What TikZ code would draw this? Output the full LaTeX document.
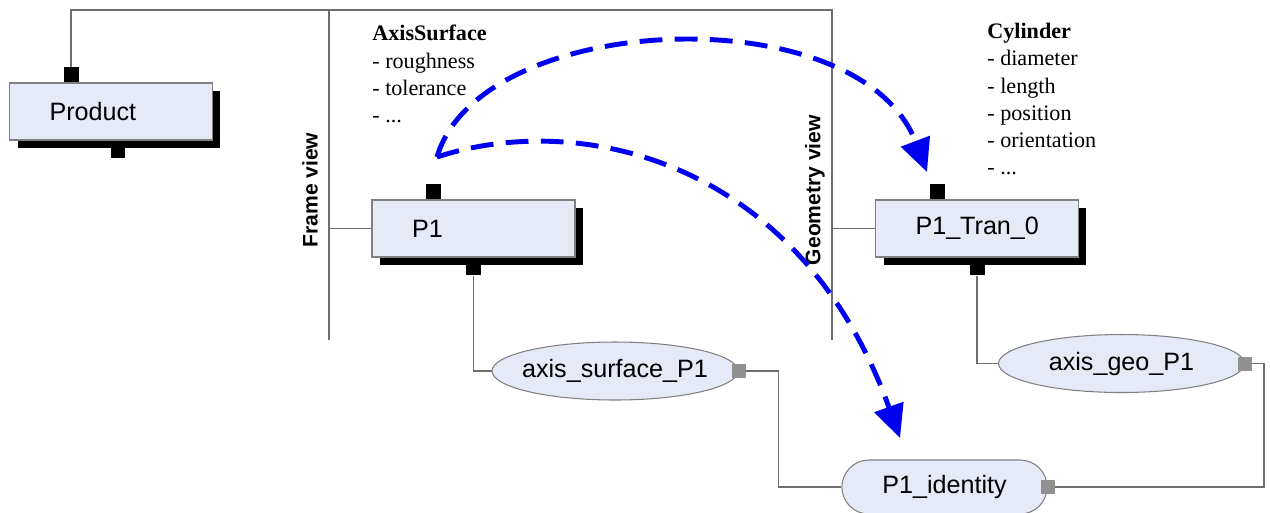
\documentclass[tikz,border=0pt]{standalone}
\usepackage{fontspec}
\setmainfont{Liberation Serif}
\setsansfont{Liberation Sans}
\usepackage{tikz}
\usetikzlibrary{positioning, shapes, arrows.meta, shadows}
\definecolor{dgFill}{HTML}{E6EAF7}
\definecolor{dgBorder}{HTML}{808080}
\definecolor{dgLine}{HTML}{6E6E6E}
\definecolor{dgGreyPort}{HTML}{909090}
\definecolor{dgBlue}{HTML}{0000F0}
\tikzset{
    dgBoxBase/.style={
        rectangle,
        draw=dgBorder,
        fill=dgFill,
        line width=0.6pt,
        minimum height=1.14cm,
        text width=2.46cm,
        inner xsep=0.8cm,
        align=left,
        font=\sffamily\fontsize{14.3}{17}\selectfont,
        general shadow={fill=black, shadow xshift=0.16cm, shadow yshift=-0.16cm}
    },
    % Instance shapes
    dgEllipse/.style={
        ellipse,
        draw=dgBorder,
        fill=dgFill,
        line width=0.6pt,
        minimum width=4.92cm,
        minimum height=1.16cm,
        inner xsep=-0.2cm,
        inner ysep=0pt,
        font=\sffamily\fontsize{14.3}{17}\selectfont
    },
    dgTerminal/.style={
        rounded rectangle,
        draw=dgBorder,
        fill=dgFill,
        line width=0.6pt,
        minimum width=4.34cm,
        minimum height=1.08cm,
        font=\sffamily\fontsize{14.3}{17}\selectfont
    },
    % Ports
    dgPort/.style={rectangle, fill=black, inner sep=0pt, minimum size=0.3cm},
    dgPortGrey/.style={rectangle, fill=dgGreyPort, inner sep=0pt, minimum size=0.28cm},
    % Lines and labels
    dgLink/.style={draw=dgLine, line width=0.7pt},
    dgMap/.style={draw=dgBlue, line width=2.8pt, dash pattern=on 13pt off 7pt,
        -{Triangle[length=0.66cm, width=0.6cm]}},
    dgView/.style={rotate=90, font=\sffamily\bfseries\fontsize{12}{14}\selectfont},
    dgAttr/.style={anchor=north west, inner sep=0pt, align=left,
        font=\fontsize{12.6}{15.5}\selectfont}
}

\begin{document}
\begin{tikzpicture}[x=0.02cm, y=-0.02cm]
    \useasboundingbox (0,0) rectangle (1270,512);

    % boxes
    \node[dgBoxBase] (product) at (111,111.5) {Product};
    \node[dgBoxBase] (p1) at (473.5,228.5) {P1};
    \node[dgBoxBase] (tran) at (977,228.5) {P1\_Tran\_0};

    \node[dgPort, above=0pt of product.north, xshift=-0.8cm] (prodtop) {};
    \node[dgPort, below=0.05cm of product.south, xshift=0.14cm] (prodbot) {};
    \node[dgPort, above=0pt of p1.north, xshift=-0.8cm] (p1top) {};
    \node[dgPort, below=0.05cm of p1.south] (p1bot) {};
    \node[dgPort, above=0pt of tran.north, xshift=-0.8cm] (trantop) {};
    \node[dgPort, below=0.05cm of tran.south] (tranbot) {};

    % instances
    \node[dgEllipse] (axsurf) at (615,371) {axis\_surface\_P1};
    \node[dgEllipse] (axgeo) at (1121.5,363.5) {axis\_geo\_P1};
    \node[dgTerminal] (ident) at (944.5,487) {P1\_identity};

    \node[dgPortGrey] (axsurfport) at (axsurf.east) {};
    \node[dgPortGrey] (axgeoport) at (axgeo.east) {};
    \node[dgPortGrey] (identport) at (ident.east) {};

    % views
    \coordinate (frametop) at (329,10);
    \coordinate (framebot) at (329,340);
    \coordinate (geotop) at (832,10);
    \coordinate (geobot) at (832,340);
    \node[dgView] (frameview) at (310,190) {Frame view};
    \node[dgView] (geoview) at (815,190) {Geometry view};

    \draw[dgLink] (prodtop.north) |- (geotop) -- (geobot);
    \draw[dgLink] (frametop) -- (framebot);
    \draw[dgLink] (p1.west -| frametop) -- (p1.west);
    \draw[dgLink] (tran.west -| geotop) -- (tran.west);
    \draw[dgLink] (p1bot.south) |- (axsurf.west);
    \draw[dgLink] (tranbot.south) |- (axgeo.west);
    \draw[dgLink] (axsurfport.east) -- ++(33,0) |- (ident.west);
    \draw[dgLink] (identport.east) -- ++(209,0) |- (axgeoport.east);

    % attributes
    \node[dgAttr] (surfattr) at (372,25) {\textbf{AxisSurface}\\- roughness\\- tolerance\\- ...};
    \node[dgAttr] (cylattr) at (987,23) {\textbf{Cylinder}\\- diameter\\- length\\- position\\- orientation\\- ...};

    % mappings
    \coordinate (srcpt) at (437,157);
    \coordinate (tip1) at (927,172);
    \coordinate (tip2) at (900,438);
    \draw[dgMap] (srcpt) .. controls (480,10) and (860,-5) .. (tip1);
    \draw[dgMap] (srcpt) .. controls (580,110) and (800,160) .. (tip2);
\end{tikzpicture}
\end{document}
